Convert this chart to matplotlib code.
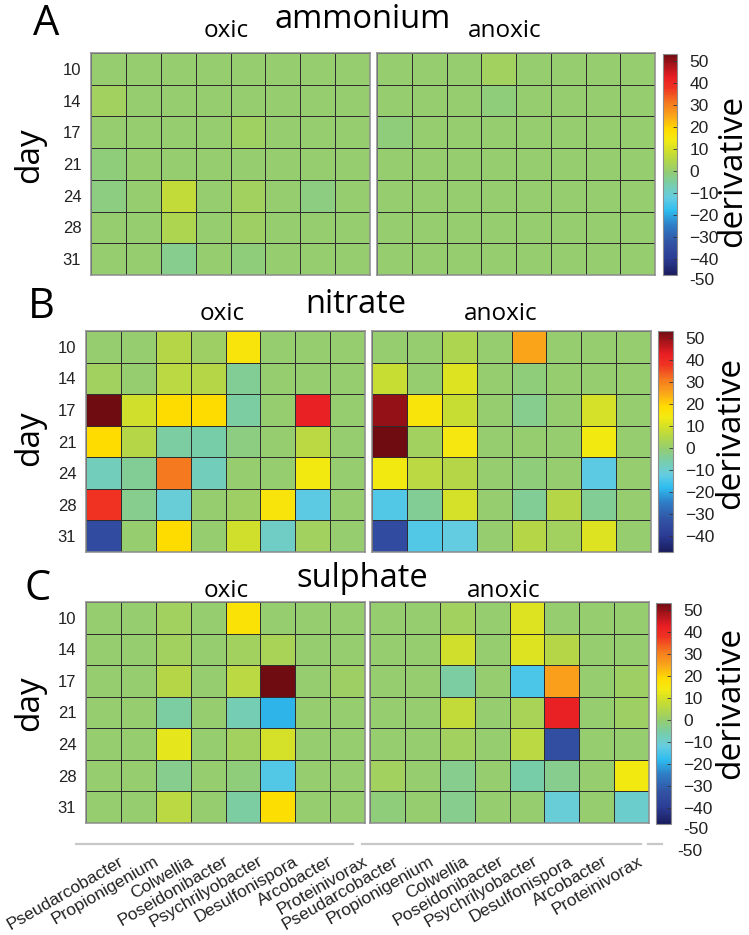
import numpy as np
import matplotlib
matplotlib.use("Agg")
import matplotlib.pyplot as plt
from matplotlib.colors import LinearSegmentedColormap, Normalize
from matplotlib.lines import Line2D
import matplotlib.transforms as mtransforms

# ---------------- data ----------------
days = ["10", "14", "17", "21", "24", "28", "31"]
genera = ["Pseudarcobacter", "Propionigenium", "Colwellia", "Poseidonibacter",
          "Psychrilyobacter", "Desulfonispora", "Arcobacter", "Proteinivorax"]

ammonium_oxic = [
    [0, 0, 0, 0, 0, 0, 0, 0],
    [2, 0, 0, 0, 0, 0, 0, 0],
    [0, 0, 0, 0, 1.5, 0, 0, 0],
    [-1, 0, 0, 0, 0, 0, 0, 0],
    [-2, 0, 7, 0, 2, 0, -2, 0],
    [0, 0, 4, 0, 1, 0, 0, 0],
    [0, 0, -3, 0, -1, 0, 0, 0],
]
ammonium_anoxic = [
    [0, 0, 0, 2, 0, 0, 0, 0],
    [0, 0, 0, -1, 0, 0, 0, 0],
    [-1, 0, 0, 0, 0, 0, 0, 0],
    [0, 0, 0, 0, 0, 0, 0, 0],
    [0, 0, 0, 0, 0, 0, 0, 0],
    [0, 0, 0, 0, 0, 0, 0, 0],
    [0, 0, 0, 0, 0, 0, 0, 0],
]
nitrate_oxic = [
    [0, 0, 5, 1, 16, 0, 0, 0],
    [2, 0, 6, 5, -4, 0, 0, 0],
    [53, 9, 19, 19, -5, 0, 42, 0],
    [19, 5, -5, -6, -2, 0, 6, 0],
    [-8, -4, 31, -8, 0, 0, 14, 0],
    [38, -3, -11, 0, 1, 16, -13, 0],
    [-35, 0, 19, 0, 9, -9, 2, 0],
]
nitrate_anoxic = [
    [0, 0, 4, 0, 25, 0, 0, 0],
    [8, 0, 11, 0, -1, 0, 0, 0],
    [50, 16, 8, 0, -3, 0, 10, 0],
    [53, 2, 15, 0, 0, 0, 14, 0],
    [14, 6, 5, 0, -1, 0, -13, 0],
    [-14, -4, 10, 0, -4, 5, -4, 0],
    [-35, -14, -12, 0, 5, 2, 11, 0],
]
sulphate_oxic = [
    [0, 0, 2, 0, 17, 0, 0, 0],
    [0, 0, 2, 0, 2, 3, 0, 0],
    [0, 0, 5, 0, 6, 53, 0, 1],
    [0, 0, -5, 0, -7, -19, 0, 0],
    [0, 0, 12, 0, 2, 10, 0, 0],
    [0, 0, -3, 0, -1, -14, 0, 0],
    [0, 0, 6, 0, -5, 18, 0, 0],
]
sulphate_anoxic = [
    [0, 0, 2, 0, 11, 0, 0, 0],
    [0, 0, 9, 0, 11, 5, 0, 0],
    [0, 0, -5, 0, -15, 26, 0, 1],
    [0, 0, 7, 0, 3, 42, 0, 1],
    [0, 0, 2, 0, 6, -34, 0, 0],
    [2, 0, -3, 0, -6, -3, 0, 14],
    [-1, 0, -3, 0, 0, -11, 0, -10],
]

panel_letters = ["A", "B", "C"]
panel_titles = ["ammonium", "nitrate", "sulphate"]
cbar_ticks = [-40, -30, -20, -10, 0, 10, 20, 30, 40, 50]

# ---------------- colormap ----------------
vmin, vmax = -47.3, 53.2
cmap_nodes = [
    (-50, "#1a1d5e"), (-40, "#2b3c94"), (-33, "#3252a3"), (-25, "#2e7cc5"),
    (-18, "#2fbdf0"), (-12, "#66cde0"), (-6, "#78cdaa"), (0, "#96cd6e"),
    (5, "#b4d748"), (9, "#cfdf2c"), (14, "#f2ea12"), (19, "#ffdc00"),
    (25, "#faa61a"), (31, "#f57a1f"), (38, "#ef3322"), (43, "#e81d24"),
    (53.2, "#6e0c12"),
]
nodes = [((v - vmin) / (vmax - vmin), c) for v, c in cmap_nodes]
nodes = [(min(max(p, 0.0), 1.0), c) for p, c in nodes]
cmap = LinearSegmentedColormap.from_list("deriv", nodes)
norm = Normalize(vmin=vmin, vmax=vmax)

W, H = 749, 935
fig = plt.figure(figsize=(W / 100, H / 100), dpi=100)

TITLE_FONT = "Open Sans"
NUM_FONT = "Liberation Sans"


def px_axes(x0, y0, x1, y1):
    # rectangle given in pixels, origin at top-left
    return fig.add_axes([x0 / W, 1 - y1 / H, (x1 - x0) / W, (y1 - y0) / H])


def ftext(x, y, s, **kw):
    fig.text(x / W, 1 - y / H, s, **kw)


# pixel layout of each row
layout = [
    dict(ox=(91, 370), an=(377, 655), y=(53, 275), cb=(663, 677, 54, 275),
         letter=(33, 35), title=(363, 28), oxic=(226, 37), anoxic=(505, 37),
         day=(30, 155), deriv=(733, 171)),
    dict(ox=(86, 365), an=(372, 651), y=(331, 552), cb=(658, 673, 331, 552),
         letter=(28, 318), title=(356, 313), oxic=(222, 320), anoxic=(501, 320),
         day=(30, 438), deriv=(731, 433)),
    dict(ox=(86, 365), an=(370, 649), y=(602, 823), cb=(656, 671, 603, 824),
         letter=(24, 600), title=(362, 587), oxic=(226, 597), anoxic=(504, 597),
         day=(30, 703), deriv=(731, 703)),
]

datasets = [
    (ammonium_oxic, ammonium_anoxic),
    (nitrate_oxic, nitrate_anoxic),
    (sulphate_oxic, sulphate_anoxic),
]

for i, (lay, (d_ox, d_an)) in enumerate(zip(layout, datasets)):
    for j, (key, data) in enumerate([("ox", d_ox), ("an", d_an)]):
        x0, x1 = lay[key]
        y0, y1 = lay["y"]
        ax = px_axes(x0, y0, x1, y1)
        mesh = ax.pcolormesh(np.arange(len(genera) + 1), np.arange(len(days) + 1),
                             np.array(data, dtype=float), cmap=cmap, norm=norm,
                             edgecolors="#2e2e2e", linewidth=0.45)
        ax.set_xlim(0, len(genera))
        ax.set_ylim(len(days), 0)
        for sp in ax.spines.values():
            sp.set_color("#8c8c8c")
            sp.set_linewidth(1.1)
        ax.tick_params(length=0)
        ax.set_xticks([])
        if j == 0:
            ax.set_yticks(np.arange(len(days)) + 0.5)
            ax.set_yticklabels(days, fontsize=12, family=NUM_FONT, color="#222222")
            ax.tick_params(axis="y", pad=7)
        else:
            ax.set_yticks([])
        if i == 2:
            # genus names, rotated, slightly shifted right as in the original
            dx = 19 if j == 0 else 10
            trans = mtransforms.blended_transform_factory(ax.transData, ax.transAxes) + \
                mtransforms.ScaledTranslation(dx / 100, -37 / 100, fig.dpi_scale_trans)
            for k, name in enumerate(genera):
                ax.text(k + 0.5, 0, name, transform=trans, rotation=30,
                        rotation_mode="anchor", ha="right", va="center",
                        fontsize=12.5, family=NUM_FONT, color="#222222",
                        clip_on=False)

    # colorbar
    cx0, cx1, cy0, cy1 = lay["cb"]
    cax = px_axes(cx0, cy0, cx1, cy1)
    cb = fig.colorbar(mesh, cax=cax)
    cb.set_ticks(cbar_ticks)
    cb.outline.set_edgecolor("#8c8c8c")
    cb.outline.set_linewidth(0.8)
    cax.tick_params(direction="in", length=3, width=0.6, color="#333333",
                    labelsize=12.5, pad=9)
    for lab in cax.get_yticklabels():
        lab.set_family(NUM_FONT)
        lab.set_color("#222222")
    if i != 1:
        cax.text(1, -50, "-50", transform=mtransforms.blended_transform_factory(
            cax.transAxes, cax.transData) + mtransforms.ScaledTranslation(
            9 / 72, 0, fig.dpi_scale_trans), fontsize=12.5, family=NUM_FONT,
            color="#222222", ha="left", va="center", clip_on=False)

    # texts
    lx, ly = lay["letter"]
    ftext(lx, ly, panel_letters[i], fontsize=30, family=TITLE_FONT,
          ha="left", va="baseline")
    tx, ty = lay["title"]
    ftext(tx, ty, panel_titles[i], fontsize=23.5, family=TITLE_FONT,
          ha="center", va="baseline")
    ox, oy = lay["oxic"]
    ftext(ox, oy, "oxic", fontsize=17.5, family=TITLE_FONT, ha="center", va="baseline")
    ax_, ay_ = lay["anoxic"]
    ftext(ax_, ay_, "anoxic", fontsize=17.5, family=TITLE_FONT, ha="center", va="baseline")
    dxp, dyp = lay["day"]
    ftext(dxp, dyp, "day", fontsize=24, family=TITLE_FONT, rotation=90,
          ha="center", va="center")
    rx, ry = lay["deriv"]
    ftext(rx, ry, "derivative", fontsize=24, family=TITLE_FONT, rotation=90,
          ha="center", va="center")

# stray axis lines and label under the bottom row
for xa, xb in [(76, 353), (362, 641), (648, 662)]:
    fig.add_artist(Line2D([xa / W, xb / W], [1 - 844 / H, 1 - 844 / H],
                          color="#c8c8c8", linewidth=1.6))
ftext(677, 852, "-50", fontsize=12.5, family=NUM_FONT, color="#222222",
      ha="left", va="center")

fig.savefig("out.png", dpi=100)
